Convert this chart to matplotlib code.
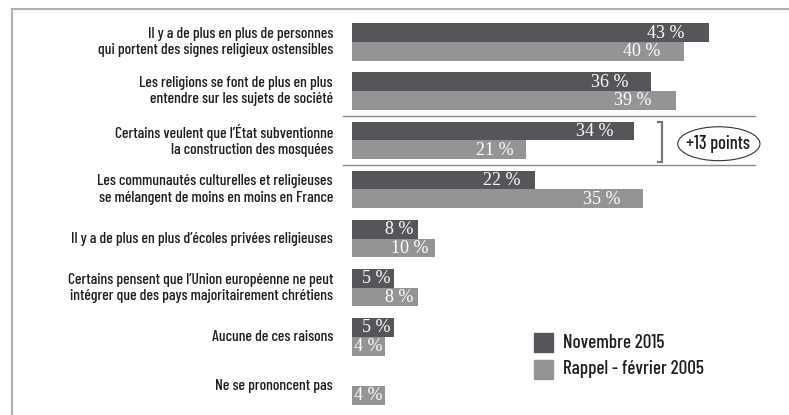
import matplotlib
matplotlib.use("Agg")
import matplotlib.pyplot as plt
from matplotlib import font_manager as fm
from matplotlib.lines import Line2D
from matplotlib.patches import Ellipse, Rectangle

categories = [
    "Il y a de plus en plus de personnes\nqui portent des signes religieux ostensibles",
    "Les religions se font de plus en plus\nentendre sur les sujets de société",
    "Certains veulent que l’État subventionne\nla construction des mosquées",
    "Les communautés culturelles et religieuses\nse mélangent de moins en moins en France",
    "Il y a de plus en plus d’écoles privées religieuses",
    "Certains pensent que l’Union européenne ne peut\nintégrer que des pays majoritairement chrétiens",
    "Aucune de ces raisons",
    "Ne se prononcent pas",
]
nov_2015 = [43, 36, 34, 22, 8, 5, 5, None]
fev_2005 = [40, 39, 21, 35, 10, 8, 4, 4]
series_names = ["Novembre 2015", "Rappel - février 2005"]
annotation = "+13 points"

DARK = "#56565a"
LIGHT = "#949497"
TXT = "#1e1e1e"


def pick(cands, stretch="normal"):
    for c in cands:
        try:
            fm.findfont(fm.FontProperties(family=c, stretch=stretch),
                        fallback_to_default=False)
            return c
        except Exception:
            continue
    return "DejaVu Sans"


cond_name = pick(["Barlow Condensed", "Roboto Condensed", "Archivo Narrow",
                  "PT Sans Narrow", "Liberation Sans Narrow"])
COND = fm.FontProperties(family=[cond_name, "DejaVu Sans"], weight=500)
SERIF = [pick(["Liberation Serif", "DejaVu Serif"]), "DejaVu Serif"]

W, H = 789, 415
fig = plt.figure(figsize=(W / 100, H / 100), dpi=100)
fig.patch.set_facecolor("white")
renderer = fig.canvas.get_renderer()


def fit(t, target_px):
    t.set_fontsize(10)
    w = t.get_window_extent(renderer).width
    t.set_fontsize(10 * target_px / w)


px_per_unit = 8.3
x0_px = 352
ax_w_px = 430
ax = fig.add_axes([x0_px / W, 0, ax_w_px / W, 1])
ax.set_xlim(0, ax_w_px / px_per_unit)
gap = 49.14
ax.set_ylim((H - 42) / gap, -42 / gap)
ax.axis("off")

# calibrate category font size
probe = fig.text(0, 0, "qui portent des signes religieux ostensibles",
                 fontproperties=COND)
fit(probe, 236)
cat_fs = probe.get_fontsize()
probe.remove()

h = 0.38
n = len(categories)
for i in range(n):
    v1 = nov_2015[i]
    v2 = fev_2005[i]
    if v1 is not None:
        ax.barh(i - h / 2, v1, height=h, color=DARK, left=0)
        ax.text(v1 - min(2.9, 0.075 * v1), i - h / 2 + 0.01, f"{v1} %", ha="right",
                va="center", color="white", fontsize=13, family=SERIF)
    if v2 is not None:
        ax.barh(i + h / 2, v2, height=h, color=LIGHT, left=0)
        ax.text(v2 - min(2.9, 0.075 * v2), i + h / 2 + 0.01, f"{v2} %", ha="right",
                va="center", color="white", fontsize=13, family=SERIF)
    t = ax.text(-2.3, i, categories[i], ha="right", va="center",
                fontproperties=COND, color=TXT, linespacing=1.2)
    t.set_fontsize(cat_fs)

# separators
for yy in (1.5, 2.5):
    ax.plot([-1.08, 48.6], [yy, yy], color="#8a8a8a", lw=1.0, clip_on=False)

# bracket
bx = 37.3
ax.plot([bx - 0.45, bx, bx, bx - 0.45], [1.63, 1.63, 2.44, 2.44],
        color="#777777", lw=1.6, clip_on=False, solid_joinstyle="miter")
ax.add_patch(Ellipse((44.2, 2.07), 9.9, 0.69, fill=False, edgecolor="#333333",
                     lw=0.8, clip_on=False))
ta = ax.text(44.1, 2.07, annotation, ha="center", va="center",
             fontproperties=COND, color=TXT)
fit(ta, 64)

# legend
leg_texts = []
for k, (name, col) in enumerate(zip(series_names, [DARK, LIGHT])):
    top = 333 + 27 * k
    fig.add_artist(Rectangle((534 / W, 1 - (top + 19) / H), 19 / W, 19 / H,
                             color=col, transform=fig.transFigure))
    tl = fig.text(563 / W, 1 - (top + 9.5) / H, name, ha="left", va="center",
                  fontproperties=COND, color=TXT)
    leg_texts.append(tl)
fit(leg_texts[1], 140)
leg_texts[0].set_fontsize(leg_texts[1].get_fontsize())

# frame
fig.add_artist(Line2D([12 / W, 1], [1 - 9 / H, 1 - 9 / H], color="#b0b0b0",
                      lw=1.5, transform=fig.transFigure))
fig.add_artist(Line2D([12 / W, 12 / W], [0, 1 - 9 / H], color="#b0b0b0",
                      lw=1.5, transform=fig.transFigure))

fig.savefig("out.png", dpi=100)
